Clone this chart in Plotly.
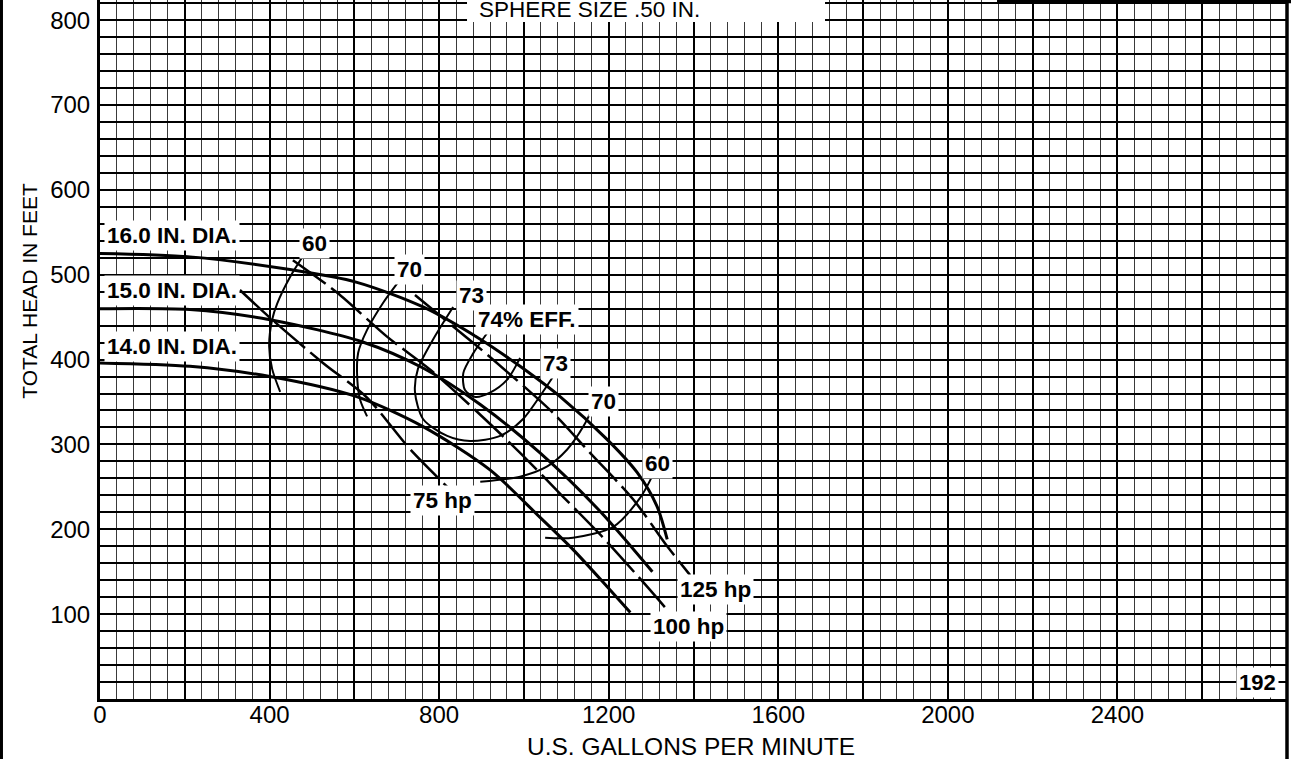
import plotly.graph_objects as go

# ---------------- data ----------------
# Head/capacity curves for three impeller diameters
GPM_16 = [0, 212, 448, 606, 762, 897, 991, 1086, 1196, 1267, 1314, 1338]
HEAD_16 = [525, 521, 506, 491, 462, 424, 392, 356, 306, 267, 227, 188]
GPM_15 = [0, 212, 401, 618, 762, 897, 1038, 1180, 1303]
HEAD_15 = [460, 459, 447, 421, 390, 347, 290, 221, 150]
GPM_14 = [0, 212, 401, 607, 762, 920, 1038, 1116, 1197, 1251]
HEAD_14 = [396, 392, 380, 356, 321, 270, 214, 176, 132, 102]

# Efficiency iso-lines
EFF60_L_GPM = [484, 448, 418, 406, 399, 406, 425]
EFF60_L_HEAD = [526, 497, 466, 447, 416, 389, 362]
EFF60_R_GPM = [1303, 1274, 1211, 1116, 1050]
EFF60_R_HEAD = [263, 237, 203, 190, 190]
EFF70_L_GPM = [703, 668, 630, 609, 607, 614, 630]
EFF70_L_HEAD = [491, 467, 435, 408, 376, 352, 333]
EFF70_R_GPM = [1168, 1140, 1102, 1055, 991, 897]
EFF70_R_HEAD = [349, 321, 294, 274, 262, 256]
EFF73_GPM = [833, 786, 750, 743, 762, 819, 873, 944, 998, 1038, 1069]
EFF73_HEAD = [462, 424, 389, 362, 330, 310, 304, 310, 330, 357, 380]
EFF74_GPM = [913, 880, 857, 861, 885, 920, 960, 991]
EFF74_HEAD = [431, 407, 384, 364, 356, 361, 376, 402]

# Power lines (dashed)
HP75_GPM = [330, 406, 526, 630, 732, 819]
HP75_HEAD = [482, 447, 396, 355, 294, 250]
HP100_GPM = [455, 559, 677, 779, 897, 991, 1093, 1187, 1286, 1338]
HP100_HEAD = [517, 479, 427, 388, 335, 290, 238, 190, 135, 105]
HP125_GPM = [743, 833, 920, 1069, 1156, 1258, 1338, 1392]
HP125_HEAD = [476, 439, 403, 337, 290, 235, 180, 146]

# In-plot labels
LABEL_TEXT = ["16.0 IN. DIA.", "15.0 IN. DIA.", "14.0 IN. DIA.", "60", "70", "73",
              "74% EFF.", "73", "70", "60", "75 hp", "125 hp", "100 hp", "192"]
LABEL_GPM = [170, 170, 170, 505, 729, 876, 1008, 1074, 1187, 1315, 809, 1451, 1388, 2731]
LABEL_HEAD = [546, 481, 415, 537, 506, 476, 447, 395, 351, 277, 234, 129, 85, 19]

# Axes
X_TICKS = [0, 400, 800, 1200, 1600, 2000, 2400]
X_TICK_LABELS = ["0", "400", "800", "1200", "1600", "2000", "2400"]
Y_TICKS = [100, 200, 300, 400, 500, 600, 700, 800]
Y_TICK_LABELS = ["100", "200", "300", "400", "500", "600", "700", "800"]
X_TITLE = "U.S. GALLONS PER MINUTE"
Y_TITLE = "TOTAL HEAD IN FEET"
TOP_NOTE = "SPHERE SIZE .50 IN."

# ---------------- figure ----------------
FONT = "Liberation Sans, Arial, Helvetica, sans-serif"
fig = go.Figure()

def add_line(x, y, width, dash=None):
    fig.add_trace(go.Scatter(
        x=x, y=y, mode="lines", hoverinfo="skip", showlegend=False,
        line=dict(color="black", width=width, shape="spline", smoothing=0.8,
                  dash=dash if dash else "solid")))

for gx, hy in [(GPM_16, HEAD_16), (GPM_15, HEAD_15), (GPM_14, HEAD_14)]:
    add_line(gx, hy, 3)

for gx, hy in [(EFF60_L_GPM, EFF60_L_HEAD), (EFF60_R_GPM, EFF60_R_HEAD),
               (EFF70_L_GPM, EFF70_L_HEAD), (EFF70_R_GPM, EFF70_R_HEAD),
               (EFF73_GPM, EFF73_HEAD), (EFF74_GPM, EFF74_HEAD)]:
    add_line(gx, hy, 2)

for gx, hy in [(HP75_GPM, HP75_HEAD), (HP100_GPM, HP100_HEAD), (HP125_GPM, HP125_HEAD)]:
    add_line(gx, hy, 2.5, dash="40px,7px")

# labels with white backgrounds
for t, gx, hy in zip(LABEL_TEXT, LABEL_GPM, LABEL_HEAD):
    fig.add_annotation(x=gx, y=hy, text=t, showarrow=False, xref="x", yref="y",
                       bgcolor="white", borderpad=2,
                       font=dict(family=FONT, size=22 if t == "192" else 22.5,
                                 color="black", weight="bold"))

# major (200 gpm) vertical grid values with labels only every 400
major_x = list(range(0, 2801, 200))
major_x_text = [X_TICK_LABELS[X_TICKS.index(v)] if v in X_TICKS else "" for v in major_x]

fig.update_xaxes(
    range=[0, 2800], tickmode="array", tickvals=major_x, ticktext=major_x_text,
    showgrid=True, gridcolor="black", gridwidth=1.5,
    minor=dict(dtick=40, tick0=0, showgrid=True, gridcolor="#3a3a3a", gridwidth=1),
    showline=True, linecolor="black", linewidth=3, zeroline=False,
    ticks="", ticklabelstandoff=-8, automargin=False,
    tickfont=dict(family=FONT, size=24, color="black"),
)
fig.update_yaxes(
    range=[0, 823.7], tickmode="array", tickvals=Y_TICKS, ticktext=Y_TICK_LABELS,
    showgrid=True, gridcolor="black", gridwidth=2,
    minor=dict(dtick=20, tick0=0, showgrid=True, gridcolor="black", gridwidth=2),
    showline=True, linecolor="black", linewidth=3, zeroline=False,
    ticks="", ticklabelstandoff=2, automargin=False,
    tickfont=dict(family=FONT, size=24, color="black"),
)

# axis titles as annotations
fig.add_annotation(text=X_TITLE, xref="paper", yref="paper", x=0.498, y=-0.068,
                   xanchor="center", yanchor="middle", showarrow=False,
                   font=dict(family=FONT, size=24.5, color="black"))
fig.add_annotation(text=Y_TITLE, xref="paper", yref="paper", x=-0.059, y=0.584,
                   xanchor="center", yanchor="middle", showarrow=False, textangle=-90,
                   font=dict(family=FONT, size=21, color="black"))

# white box at top with note
fig.add_shape(type="rect", xref="paper", yref="paper", x0=0.3092, x1=0.6108,
              y0=0.9685, y1=1.02, fillcolor="white", line=dict(width=0), layer="above")
fig.add_annotation(text=TOP_NOTE, xref="paper", yref="paper", x=0.318, y=1.0,
                   xanchor="left", yanchor="top", yshift=5, showarrow=False,
                   font=dict(family=FONT, size=22.5, color="black"))

# frame lines
fig.add_shape(type="line", xref="paper", yref="paper", x0=1.0, x1=1.0, y0=-0.1, y1=1.01,
              line=dict(color="black", width=3.5), layer="above")
fig.add_shape(type="line", xref="paper", yref="paper", x0=-0.083, x1=-0.083, y0=-0.1, y1=1.01,
              line=dict(color="black", width=3), layer="above")
fig.add_shape(type="line", xref="paper", yref="paper", x0=0.7557, x1=1.01, y0=0.998, y1=0.998,
              line=dict(color="black", width=3.5), layer="above")

fig.update_layout(
    width=1291, height=759,
    margin=dict(l=100, r=4, t=0, b=60, pad=0, autoexpand=False),
    paper_bgcolor="white", plot_bgcolor="white",
    showlegend=False,
    font=dict(family=FONT, color="black"),
)

fig.write_html(
    "out.html",
    config={"displayModeBar": False},
    post_script="document.body.style.margin='0';document.body.style.overflow='hidden';",
)
